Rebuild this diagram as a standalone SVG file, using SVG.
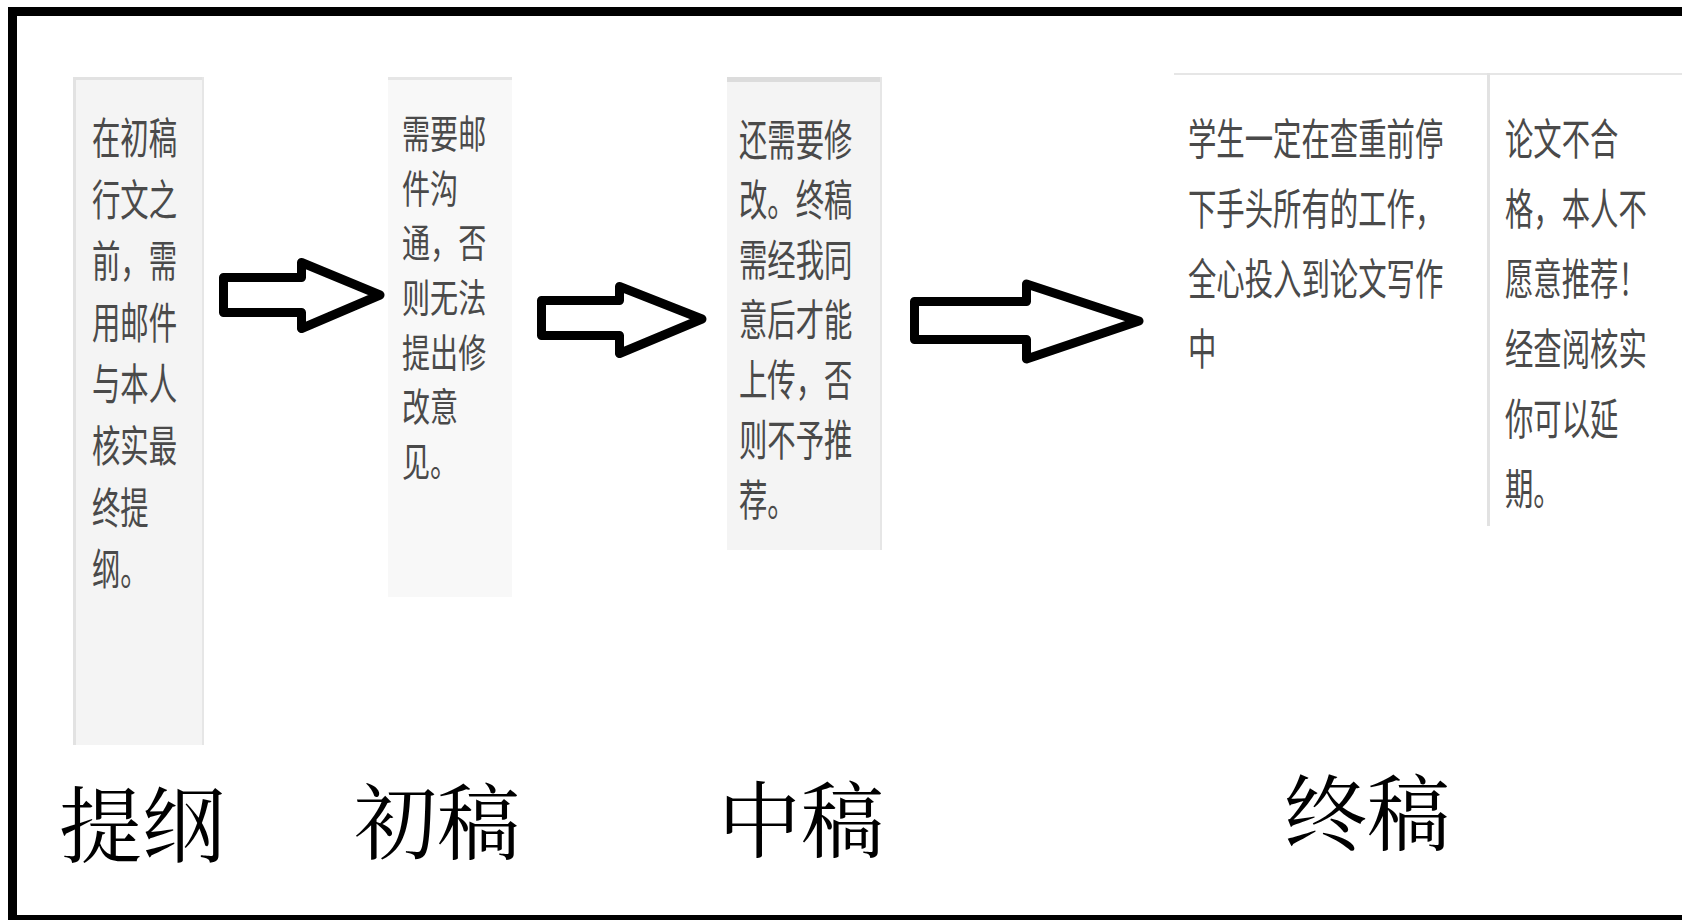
<svg xmlns="http://www.w3.org/2000/svg" width="1682" height="920" viewBox="0 0 1682 920">
<style>
.frame{fill:none;stroke:#000;stroke-width:9}
.note{font-family:"Noto Sans CJK SC","Noto Sans CJK TC",sans-serif;fill:#4a4a4a}
.label{font-family:"Noto Serif CJK SC","Source Han Serif SC","Noto Sans CJK SC",serif;font-size:83px;fill:#000}
.arrow{fill:#fff;stroke:#000;stroke-width:9;stroke-linejoin:round}
</style>
<rect x="0" y="0" width="1682" height="920" fill="#fff"/>
<rect class="frame" x="12.5" y="11.5" width="1700" height="908"/>

<g id="node-tigang">
<rect x="73" y="77" width="131" height="668" fill="#f4f4f4"/>
<rect x="73" y="77" width="131" height="3" fill="#e2e2e2"/>
<rect x="73" y="77" width="3" height="668" fill="#e2e2e2"/>
<rect x="202" y="77" width="2" height="668" fill="#e6e6e6"/>
<g transform="translate(92,154) scale(0.66,1)">
<text class="note" font-size="43" x="0" y="0"><tspan x="0" dy="0">在初稿</tspan><tspan x="0" dy="61.6">行文之</tspan><tspan x="0" dy="61.6">前，需</tspan><tspan x="0" dy="61.6">用邮件</tspan><tspan x="0" dy="61.6">与本人</tspan><tspan x="0" dy="61.6">核实最</tspan><tspan x="0" dy="61.6">终提</tspan><tspan x="0" dy="61.6">纲。</tspan></text>
</g>
<text class="label" x="59" y="856">提纲</text>
</g>

<g id="node-chugao">
<rect x="388" y="77" width="124" height="520" fill="#f8f8f8"/>
<rect x="388" y="77" width="124" height="3" fill="#e6e6e6"/>
<g transform="translate(402,148) scale(0.72,1)">
<text class="note" font-size="39" x="0" y="0"><tspan x="0" dy="0">需要邮</tspan><tspan x="0" dy="54.7">件沟</tspan><tspan x="0" dy="54.7">通，否</tspan><tspan x="0" dy="54.7">则无法</tspan><tspan x="0" dy="54.7">提出修</tspan><tspan x="0" dy="54.7">改意</tspan><tspan x="0" dy="54.7">见。</tspan></text>
</g>
<text class="label" x="354" y="853">初稿</text>
</g>

<g id="node-zhonggao">
<rect x="727" y="77" width="155" height="473" fill="#f4f4f4"/>
<rect x="727" y="77" width="155" height="5" fill="#dcdcdc"/>
<rect x="880" y="77" width="2" height="473" fill="#e6e6e6"/>
<g transform="translate(739,156) scale(0.66,1)">
<text class="note" font-size="43" x="0" y="0"><tspan x="0" dy="0">还需要修</tspan><tspan x="0" dy="60">改。终稿</tspan><tspan x="0" dy="60">需经我同</tspan><tspan x="0" dy="60">意后才能</tspan><tspan x="0" dy="60">上传，否</tspan><tspan x="0" dy="60">则不予推</tspan><tspan x="0" dy="60">荐。</tspan></text>
</g>
<text class="label" x="718" y="851">中稿</text>
</g>

<g id="node-zhonggao-final">
<rect x="1174" y="73" width="508" height="2" fill="#e6e6e6"/>
<rect x="1487" y="73" width="3" height="453" fill="#e2e2e2"/>
<g transform="translate(1188,155) scale(0.66,1)">
<text class="note" font-size="43" x="0" y="0"><tspan x="0" dy="0">学生一定在查重前停</tspan><tspan x="0" dy="70">下手头所有的工作，</tspan><tspan x="0" dy="70">全心投入到论文写作</tspan><tspan x="0" dy="70">中</tspan></text>
</g>
<g transform="translate(1505,155) scale(0.66,1)">
<text class="note" font-size="43" x="0" y="0"><tspan x="0" dy="0">论文不合</tspan><tspan x="0" dy="70">格，本人不</tspan><tspan x="0" dy="70">愿意推荐！</tspan><tspan x="0" dy="70">经查阅核实</tspan><tspan x="0" dy="70">你可以延</tspan><tspan x="0" dy="70">期。</tspan></text>
</g>
<text class="label" x="1284" y="844">终稿</text>
</g>

<g id="connectors">
<path class="arrow" d="M223.5,277.5 H301.5 V262.5 L380,295 L301.5,328.5 V312.5 H223.5 Z"/>
<path class="arrow" d="M541.5,300.5 H619.5 V286.5 L702,319 L619.5,353.5 V335.5 H541.5 Z"/>
<path class="arrow" d="M914.5,301.5 H1026.5 V284 L1139,321 L1026.5,359 V339.5 H914.5 Z"/>
</g>
</svg>
